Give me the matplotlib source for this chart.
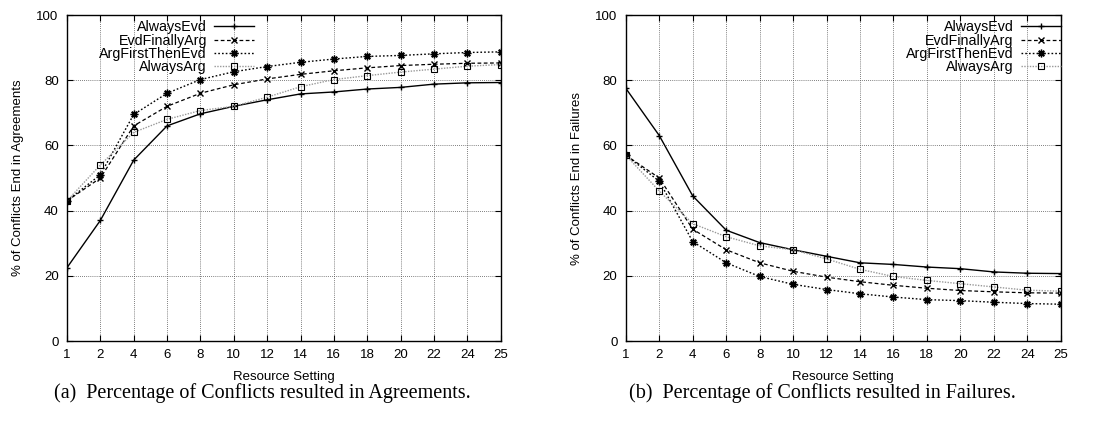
import matplotlib
matplotlib.use('Agg')
import matplotlib.pyplot as plt

# Data
x_labels = ['1', '2', '4', '6', '8', '10', '12', '14', '16', '18', '20', '22', '24', '25']
series = ['AlwaysEvd', 'EvdFinallyArg', 'ArgFirstThenEvd', 'AlwaysArg']

agree_always_evd = [22.5, 37, 55.5, 66, 69.7, 72, 74, 75.8, 76.4, 77.3, 77.8, 78.8, 79.2, 79.3]
agree_evd_finally_arg = [43, 50, 66, 72, 76, 78.6, 80.4, 81.8, 82.9, 83.8, 84.5, 84.9, 85.2, 85.3]
agree_arg_first = [43, 51, 69.5, 76, 80.2, 82.6, 84.2, 85.5, 86.5, 87.3, 87.6, 88.1, 88.5, 88.7]
agree_always_arg = [43, 54, 64, 68, 70.7, 72, 74.8, 78, 80.2, 81.4, 82.5, 83.4, 84.3, 84.8]

fail_always_evd = [77.5, 63, 44.5, 34, 30.2, 28, 26, 24, 23.5, 22.7, 22.2, 21.2, 20.8, 20.7]
fail_evd_finally_arg = [57, 50, 34.3, 28, 24, 21.4, 19.6, 18.2, 17.1, 16.2, 15.5, 15.1, 14.8, 14.7]
fail_arg_first = [57, 49, 30.5, 24, 19.8, 17.4, 15.8, 14.5, 13.5, 12.7, 12.4, 11.9, 11.5, 11.3]
fail_always_arg = [57, 46, 36, 32, 29.2, 28, 25.2, 22, 19.8, 18.6, 17.6, 16.6, 15.6, 15.3]

styles = [
    dict(color='black', linestyle='-', marker='+', markersize=5, lw=1.0),
    dict(color='black', linestyle=(0, (3, 2)), marker='x', markersize=4.5, lw=0.9),
    dict(color='black', linestyle=(0, (1.2, 1.5)), marker=(8, 2, 0), markersize=5.5, lw=1.0),
    dict(color='#999999', linestyle=(0, (1, 1)), marker='s', markersize=5, lw=1.0,
         markerfacecolor='none', markeredgecolor='black', markeredgewidth=0.8),
]

plt.rcParams['font.family'] = ['Liberation Sans', 'DejaVu Sans']

fig = plt.figure(figsize=(10.98, 4.29), dpi=100)
ax1 = fig.add_axes([0.061, 0.205, 0.395, 0.760])
ax2 = fig.add_axes([0.570, 0.205, 0.396, 0.760])

xs = list(range(len(x_labels)))


def draw(ax, data, ylabel, loc, anchor):
    for name, vals, st in zip(series, data, styles):
        ax.plot(xs, vals, label=name, **st)
    ax.set_xlim(0, len(x_labels) - 1)
    ax.set_ylim(0, 100)
    ax.set_xticks(xs)
    ax.set_xticklabels(x_labels)
    ax.set_yticks([0, 20, 40, 60, 80, 100])
    ax.grid(True, color='#555555', linestyle=(0, (1, 1.5)), linewidth=0.6)
    ax.tick_params(direction='in', top=True, right=True, length=4, labelsize=9.5, pad=6)
    for s in ax.spines.values():
        s.set_linewidth(1.0)
    ax.set_xlabel('Resource Setting', fontsize=9.5, labelpad=7)
    ax.set_ylabel(ylabel, fontsize=9.5, labelpad=9)
    leg = ax.legend(loc=loc, bbox_to_anchor=anchor, frameon=False, markerfirst=False,
                    fontsize=10.3, handlelength=2.8, handletextpad=0.5, labelspacing=-0.05,
                    borderaxespad=0.2)
    for t in leg.get_texts():
        t.set_ha('right')
    leg._legend_box.align = 'right'


draw(ax1, [agree_always_evd, agree_evd_finally_arg, agree_arg_first, agree_always_arg],
     '% of Conflicts End in Agreements', 'upper left', (0.055, 1.01))
draw(ax2, [fail_always_evd, fail_evd_finally_arg, fail_arg_first, fail_always_arg],
     '% of Conflicts End in Failures', 'upper right', (1.02, 1.01))

fig.text(0.239, 0.083, '(a)  Percentage of Conflicts resulted in Agreements.',
         ha='center', va='center', fontsize=14.5, family='Liberation Serif')
fig.text(0.749, 0.083, '(b)  Percentage of Conflicts resulted in Failures.',
         ha='center', va='center', fontsize=14.5, family='Liberation Serif')

fig.savefig('out.png', dpi=100)
